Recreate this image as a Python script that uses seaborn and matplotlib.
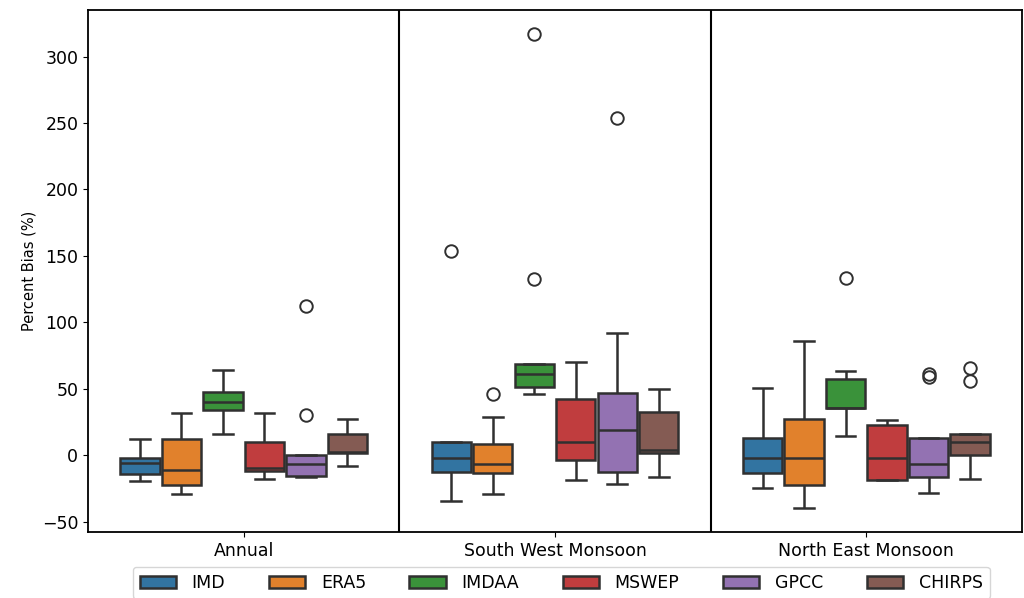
import numpy as np
import pandas as pd
import seaborn as sns
import matplotlib

matplotlib.use('Agg')
import matplotlib.pyplot as plt

seasons = ['Annual', 'South West Monsoon', 'North East Monsoon']
products = ['IMD', 'ERA5', 'IMDAA', 'MSWEP', 'GPCC', 'CHIRPS']

# percent bias per station
annual = {
    'IMD': [-19.6, -16.5, -13.8, -9.0, -5.8, -4.0, -2.0, 5.0, 11.8],
    'ERA5': [-29.6, -26.0, -22.4, -16.0, -10.8, 0.0, 11.8, 22.0, 31.4],
    'IMDAA': [15.6, 25.0, 33.9, 37.0, 40.2, 44.0, 47.7, 56.0, 64.0],
    'MSWEP': [-18.3, -15.0, -11.8, -11.0, -10.0, 0.0, 10.0, 20.0, 31.9],
    'GPCC': [-16.8, -16.2, -15.6, -10.0, -6.3, -3.0, 0.0, 30.4, 112.5],
    'CHIRPS': [-8.0, -3.0, 1.3, 2.0, 2.5, 9.0, 15.8, 22.0, 27.6],
}
south_west = {
    'IMD': [-34.4, -24.0, -13.0, -7.0, -2.3, 4.0, 9.8, 9.8, 154.0],
    'ERA5': [-29.4, -21.0, -13.3, -10.0, -6.3, 1.0, 8.3, 28.4, 46.0],
    'IMDAA': [45.7, 48.5, 51.0, 56.0, 61.3, 65.0, 68.6, 132.4, 317.0],
    'MSWEP': [-18.8, -11.0, -3.8, 3.0, 9.8, 26.0, 42.0, 56.0, 70.3],
    'GPCC': [-21.9, -17.0, -12.3, 4.0, 19.1, 33.0, 46.5, 91.7, 254.0],
    'CHIRPS': [-16.3, -7.0, 2.0, 3.0, 3.8, 18.0, 32.4, 41.0, 50.0],
}
north_east = {
    'IMD': [-24.4, -19.0, -13.3, -7.0, -1.8, 6.0, 13.0, 32.0, 50.5],
    'ERA5': [-39.4, -31.0, -22.3, -12.0, -2.0, 12.0, 27.4, 56.0, 85.9],
    'IMDAA': [14.3, 25.0, 35.4, 35.4, 35.4, 46.0, 57.0, 63.6, 133.6],
    'MSWEP': [-18.8, -18.8, -18.8, -10.0, -2.0, 10.0, 22.9, 24.5, 26.4],
    'GPCC': [-28.1, -22.0, -16.3, -12.0, -7.0, 3.0, 13.3, 59.0, 61.0],
    'CHIRPS': [-17.6, -8.0, 0.0, 5.0, 10.0, 13.0, 16.3, 56.0, 65.3],
}

# long format table
rows = []
for season, d in zip(seasons, [annual, south_west, north_east]):
    for p in products:
        for v in d[p]:
            rows.append({'Season': season, 'Product': p, 'Percent Bias (%)': v})
df = pd.DataFrame(rows)

fig = plt.figure(figsize=(10.24, 5.98), dpi=100)
ax = fig.add_axes([0.086, 0.110, 0.912, 0.873])

sns.boxplot(data=df, x='Season', y='Percent Bias (%)', hue='Product',
            order=seasons, hue_order=products, palette='tab10',
            linewidth=1.8, linecolor='#303030', gap=0.05, width=0.8,
            flierprops=dict(marker='o', markersize=9, markeredgewidth=1.4),
            ax=ax)

# separators between seasons
for xv in [0.5, 1.5]:
    ax.axvline(xv, color='black', linewidth=1.5)

ax.set_xlim(-0.5, 2.5)
ax.set_ylim(-58, 335)
ax.set_yticks(np.arange(-50, 301, 50))
ax.set_xlabel('')
ax.set_ylabel('Percent Bias (%)', fontsize=10.5)
ax.tick_params(axis='x', labelsize=12.5)
ax.tick_params(axis='y', labelsize=12.5)
for s in ax.spines.values():
    s.set_color('black')
    s.set_linewidth(1.3)

sns.move_legend(ax, 'upper center', bbox_to_anchor=(0.548, 0.052),
                bbox_transform=fig.transFigure, ncol=6, title=None,
                frameon=True, fontsize=12.5, handlelength=2.1,
                handletextpad=0.9, columnspacing=2.5, borderaxespad=0)

plt.savefig('out.png', dpi=100)
